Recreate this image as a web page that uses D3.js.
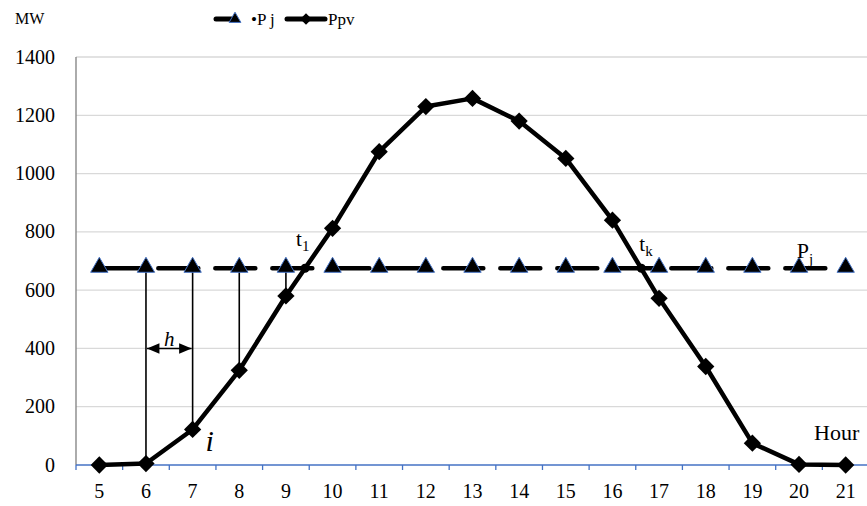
<!DOCTYPE html>
<html>
<head>
<meta charset="utf-8">
<script src="https://cdn.jsdelivr.net/npm/d3@7"></script>
<style>
  body { margin: 0; background: #fff; }
</style>
</head>
<body>
<svg id="chart"></svg>
<script>
  // Hours on the category axis
  const hours = [5, 6, 7, 8, 9, 10, 11, 12, 13, 14, 15, 16, 17, 18, 19, 20, 21];
  // PV output (MW)
  const ppv = [0, 5, 122, 325, 580, 812, 1075, 1230, 1258, 1180, 1052, 840, 572, 338, 75, 2, 0];
  // Constant threshold Pj (MW)
  const pj = [675, 675, 675, 675, 675, 675, 675, 675, 675, 675, 675, 675, 675, 675, 675, 675, 675];
  const yTicks = [0, 200, 400, 600, 800, 1000, 1200, 1400];
  // hours where vertical drop lines are drawn
  const dropHours = [6, 7, 8, 9];
  // crossing points t1 and tk (hour, value)
  const crossings = [
    { hour: 9.41, value: 675, label: "t", sub: "1", dx: -9, dy: -22 },
    { hour: 16.62, value: 675, label: "t", sub: "k", dx: -2, dy: -17 },
  ];

  const W = 867, H = 506;
  const margin = { top: 57, right: -2, bottom: 41, left: 76 };
  const width = W - margin.left - margin.right,
    height = H - margin.top - margin.bottom;

  const svg = d3.select("#chart").attr("width", W).attr("height", H)
    .style("display", "block")
    .attr("font-family", "'Liberation Serif', 'Times New Roman', Times, 'DejaVu Serif', serif");
  const g = svg.append("g").attr("transform", `translate(${margin.left},${margin.top})`);

  const x = d3.scaleBand().domain(hours).range([0, width]);
  const xc = (h) => x(h) + x.bandwidth() / 2;
  // continuous position for fractional hours
  const xLin = d3.scaleLinear().domain([hours[0], hours[hours.length - 1]])
    .range([xc(hours[0]), xc(hours[hours.length - 1])]);
  const y = d3.scaleLinear().domain([0, 1400]).range([height, 0]);

  // gridlines
  g.append("g").selectAll("line").data(yTicks.slice(1)).join("line")
    .attr("x1", 0).attr("x2", width)
    .attr("y1", (d) => y(d)).attr("y2", (d) => y(d))
    .attr("stroke", "#d9d9d9").attr("stroke-width", 1.3);

  // y axis
  g.append("line").attr("x1", 0).attr("x2", 0).attr("y1", 0).attr("y2", height)
    .attr("stroke", "#7f7f7f").attr("stroke-width", 1.3);
  g.append("g").selectAll("text").data(yTicks).join("text")
    .attr("x", -21).attr("y", (d) => y(d)).attr("dy", "0.33em")
    .attr("text-anchor", "end").attr("font-size", 20).text((d) => d);

  // x axis
  const xAxis = g.append("g").attr("transform", `translate(0,${height})`);
  xAxis.append("line").attr("x1", 0).attr("x2", width)
    .attr("stroke", "#4472c4").attr("stroke-width", 1.5);
  xAxis.selectAll(".tk").data(hours.concat([null])).join("line")
    .attr("x1", (d, i) => i * x.step()).attr("x2", (d, i) => i * x.step())
    .attr("y1", 0).attr("y2", 5).attr("stroke", "#4472c4").attr("stroke-width", 1.3);
  xAxis.selectAll("text").data(hours).join("text")
    .attr("x", (d) => xc(d)).attr("y", 33).attr("text-anchor", "middle")
    .attr("font-size", 20).text((d) => d);

  // vertical drop lines from Pj down to Ppv
  g.append("g").selectAll("line").data(dropHours).join("line")
    .attr("x1", (d) => xc(d)).attr("x2", (d) => xc(d))
    .attr("y1", (d) => y(pj[hours.indexOf(d)]))
    .attr("y2", (d) => y(ppv[hours.indexOf(d)]))
    .attr("stroke", "#000").attr("stroke-width", 1.6);

  // h arrow between hour 6 and 7
  svg.append("defs").append("marker").attr("id", "arr")
    .attr("viewBox", "0 0 12 10").attr("refX", 12).attr("refY", 5)
    .attr("markerWidth", 8).attr("markerHeight", 6.5).attr("orient", "auto-start-reverse")
    .attr("markerUnits", "strokeWidth")
    .append("path").attr("d", "M0,0 L12,5 L0,10 z").attr("fill", "#000");
  g.append("line").attr("x1", xc(6) + 1).attr("x2", xc(7) - 1)
    .attr("y1", y(400)).attr("y2", y(400))
    .attr("stroke", "#000").attr("stroke-width", 1.6)
    .attr("marker-start", "url(#arr)").attr("marker-end", "url(#arr)");
  g.append("text").attr("x", (xc(6) + xc(7)) / 2).attr("y", y(400) - 2)
    .attr("text-anchor", "middle").attr("font-size", 21).attr("font-style", "italic").text("h");

  // Pj dashed line
  const line = d3.line().x((d, i) => xc(hours[i])).y((d) => y(d));
  g.append("path").datum(pj).attr("d", line).attr("fill", "none")
    .attr("stroke", "#000").attr("stroke-width", 4.5)
    .attr("stroke-dasharray", "40,17").attr("stroke-linecap", "round")
    .attr("stroke-dashoffset", -2);

  // Ppv line
  g.append("path").datum(ppv).attr("d", line).attr("fill", "none")
    .attr("stroke", "#000").attr("stroke-width", 4.5).attr("stroke-linejoin", "round");

  // triangles
  const tri = d3.symbol().type(d3.symbolTriangle).size(130);
  g.append("g").selectAll("path").data(pj).join("path")
    .attr("d", tri).attr("transform", (d, i) => `translate(${xc(hours[i])},${y(d) - 1})`)
    .attr("fill", "#000").attr("stroke", "#4472c4").attr("stroke-width", 1);

  // diamonds
  const dia = d3.symbol().type(d3.symbolDiamond2).size(190);
  g.append("g").selectAll("path").data(ppv).join("path")
    .attr("d", dia).attr("transform", (d, i) => `translate(${xc(hours[i])},${y(d)})`)
    .attr("fill", "#000");

  // crossing dots and labels
  crossings.forEach((c) => {
    const cx = xLin(c.hour), cy = y(c.value);
    g.append("circle").attr("cx", cx).attr("cy", cy).attr("r", 4.5).attr("fill", "#000");
    const t = g.append("text").attr("x", cx + c.dx).attr("y", cy + c.dy).attr("font-size", 21);
    t.append("tspan").text(c.label);
    t.append("tspan").attr("dy", 5).attr("font-size", 15).text(c.sub);
  });

  // Pj label
  const pl = g.append("text").attr("x", xLin(19.95)).attr("y", y(675) - 10).attr("font-size", 22);
  pl.append("tspan").text("P");
  pl.append("tspan").attr("dy", 6).attr("font-size", 15).text("j");

  // i label
  g.append("text").attr("x", xc(7) + 13).attr("y", y(122) + 22)
    .attr("font-size", 30).attr("font-style", "italic").text("i");

  // axis titles
  svg.append("text").attr("x", 15).attr("y", 24).attr("font-size", 16).text("MW");
  svg.append("text").attr("x", 814).attr("y", 440).attr("font-size", 22).text("Hour");

  // legend
  const lg = svg.append("g").attr("transform", "translate(0,19)");
  lg.append("line").attr("x1", 216).attr("x2", 234).attr("y1", 0).attr("y2", 0)
    .attr("stroke", "#000").attr("stroke-width", 5).attr("stroke-linecap", "round");
  lg.append("path").attr("d", d3.symbol().type(d3.symbolTriangle).size(60))
    .attr("transform", "translate(235,0)").attr("fill", "#000")
    .attr("stroke", "#4472c4").attr("stroke-width", 1);
  lg.append("text").attr("x", 251).attr("y", 6).attr("font-size", 17).text("•P j");
  lg.append("line").attr("x1", 287).attr("x2", 325).attr("y1", 0).attr("y2", 0)
    .attr("stroke", "#000").attr("stroke-width", 5).attr("stroke-linecap", "round");
  lg.append("path").attr("d", d3.symbol().type(d3.symbolDiamond2).size(85))
    .attr("transform", "translate(306,0)").attr("fill", "#000");
  lg.append("text").attr("x", 328).attr("y", 6).attr("font-size", 17).text("Ppv");
</script>
</body>
</html>
